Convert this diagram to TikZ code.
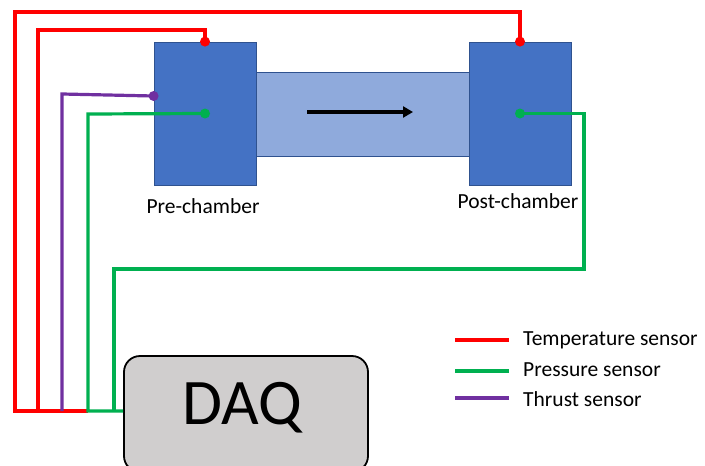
\documentclass[tikz,border=0pt]{standalone}
\usepackage{fontspec}
\setmainfont{Carlito}
\usetikzlibrary{arrows.meta,positioning}

\definecolor{chamberblue}{HTML}{4472C4}
\definecolor{tubeblue}{HTML}{8FAADC}
\definecolor{edgeblue}{HTML}{2F528F}
\definecolor{daqgray}{HTML}{D0CECE}
\definecolor{tempred}{HTML}{FF0000}
\definecolor{pressgreen}{HTML}{00B050}
\definecolor{thrustpurple}{HTML}{7030A0}

\tikzset{
  chamber/.style={draw=edgeblue,line width=0.8pt,fill=chamberblue,minimum width=102pt,minimum height=143pt,inner sep=0pt},
  tubebox/.style={draw=edgeblue,line width=0.8pt,fill=tubeblue,minimum width=214pt,minimum height=84pt,inner sep=0pt},
  daqbox/.style={draw=black,line width=1.8pt,fill=daqgray,rounded corners=16pt,minimum width=244pt,minimum height=116pt,inner sep=0pt},
  lbl/.style={font=\fontsize{21.5}{24}\selectfont,inner sep=0pt},
  wire/.style={line width=3.2pt},
  tempwire/.style={wire,tempred},
  presswire/.style={wire,pressgreen},
  thrustwire/.style={wire,thrustpurple},
}

\begin{document}
\begin{tikzpicture}[x=1pt,y=-1pt,>=Stealth]
  \clip (0,0) rectangle (705,466);
  \fill[white] (0,0) rectangle (705,466);
  % chambers and tube
  \node[tubebox] (tube) at (363,114) {};
  \node[chamber] (pre) at (205,113.5) {};
  \node[chamber] (post) at (520,113.5) {};
  \draw[line width=3.4pt,-{Triangle[length=10pt,width=11pt]}] (307,112) -- (413,112);
  \node[lbl] (prelbl) at (203,206) {Pre-chamber};
  \node[lbl] (postlbl) at (518,201) {Post-chamber};
  % DAQ
  \node[daqbox] (daq) at (246,414) {};
  \node[font=\fontsize{65}{70}\selectfont,inner sep=0pt] (daqlbl) at (242,408) {DAQ};
  \coordinate (preF) at ([yshift=17.5pt]pre.west);
  \coordinate (tap) at (88,411);
  % wires
  \draw[tempwire] (post.north) |- (15,12) -- (15,411) -- (tap);
  \draw[tempwire] (pre.north) |- (38,30) -- (38,411);
  \draw[thrustwire] (preF) -- (62,94) -- (62,411);
  \draw[presswire] (pre.center) -- (88,114) -- (tap) -- (daq.west |- tap);
  \draw[presswire] (post.center) -| (584,269) -| (114,411);
  \fill[tempred] (pre.north) circle (5);
  \fill[tempred] (post.north) circle (5);
  \fill[pressgreen] (pre.center) circle (5);
  \fill[pressgreen] (post.center) circle (5);
  \fill[thrustpurple] (preF) circle (5);
  % legend
  \node[lbl,anchor=west] (legT) at (523,340) {Temperature sensor};
  \node[lbl,anchor=west] (legP) at (523,370) {Pressure sensor};
  \node[lbl,anchor=west] (legF) at (523,399) {Thrust sensor};
  \draw[tempwire] (455,340) -- ([xshift=-14pt]legT.west);
  \draw[presswire] (455,371) -- ([xshift=-14pt]legP.west |- 0,371);
  \draw[thrustwire] (455,398) -- ([xshift=-14pt]legF.west |- 0,398);
\end{tikzpicture}
\end{document}
